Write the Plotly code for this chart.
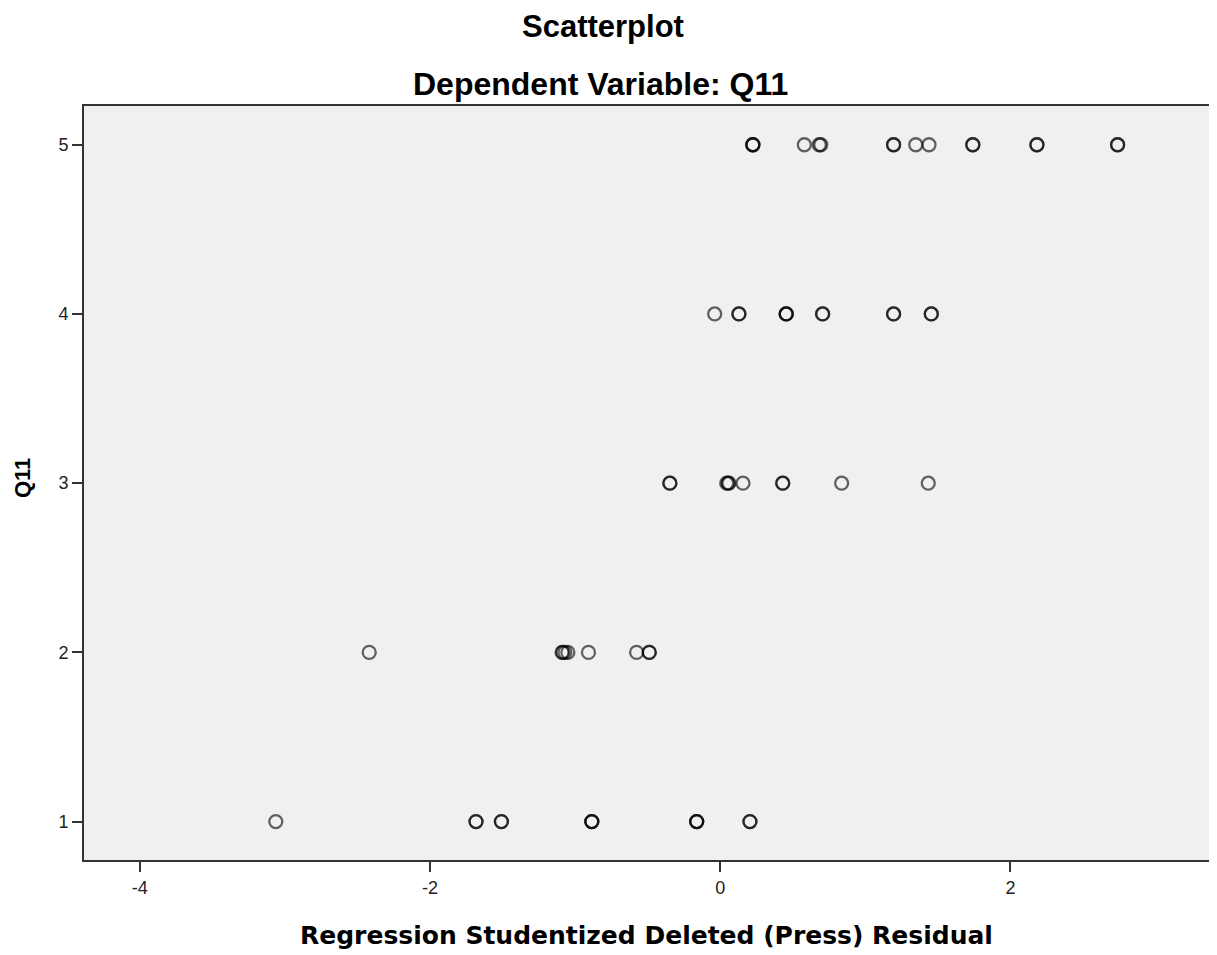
import plotly.graph_objects as go

# Studentized deleted residuals, grouped by the observed value of Q11
# (repeated values = overlapping cases, which draw darker in the original)
resid_q11_1 = [-3.063, -1.683, -1.683, -1.508, -1.508, -0.885, -0.885, -0.885,
               -0.162, -0.162, -0.162, 0.205, 0.205]
resid_q11_2 = [-2.419, -1.090, -1.070, -1.050, -1.085, -0.908, -0.576, -0.489, -0.489]
resid_q11_3 = [-0.347, -0.347, 0.045, 0.054, 0.060, 0.157, 0.431, 0.431, 0.837, 1.434]
resid_q11_4 = [-0.038, 0.129, 0.129, 0.455, 0.455, 0.455, 0.706, 0.706, 1.195, 1.195,
               1.455, 1.455]
resid_q11_5 = [0.225, 0.225, 0.225, 0.580, 0.683, 0.693, 1.195, 1.195, 1.348, 1.439,
               1.741, 1.741, 2.183, 2.183, 2.739, 2.739]

q11_levels = [1, 2, 3, 4, 5]
groups = [resid_q11_1, resid_q11_2, resid_q11_3, resid_q11_4, resid_q11_5]

x_ticks = [-4, -2, 0, 2]
y_ticks = [1, 2, 3, 4, 5]

title_text = "Scatterplot"
subtitle_text = "Dependent Variable: Q11"
x_title = "Regression Studentized Deleted (Press) Residual"
y_title = "Q11"

xs, ys = [], []
for lvl, g in zip(q11_levels, groups):
    xs.extend(g)
    ys.extend([lvl] * len(g))

fig = go.Figure()
fig.add_trace(go.Scatter(
    x=xs, y=ys, mode="markers",
    marker=dict(symbol="circle-open", size=13,
                color="rgba(0,0,0,0.6)",
                line=dict(width=2.3, color="rgba(0,0,0,0.6)")),
    hoverinfo="x+y", showlegend=False,
))

# the page body adds an 8px offset; compensate so the plot lands where the reference has it
OFF = 8
W, H = 1217 - OFF, 955 - OFF
L, R, T, B = 84 - OFF, 6, 106 - OFF, 95
fig.update_layout(
    width=W, height=H,
    margin=dict(l=L, r=R, t=T, b=B, pad=0),
    paper_bgcolor="white",
    plot_bgcolor="#F0F0F0",
    font=dict(family="Liberation Sans, Arial, sans-serif", color="#111"),
    showlegend=False,
)
tickfont = dict(size=18, family="Liberation Sans, Arial, sans-serif", color="#222")
fig.update_xaxes(
    range=[-4.385, 3.369], tickvals=x_ticks, ticktext=[str(v) for v in x_ticks],
    showgrid=False, zeroline=False,
    showline=True, mirror=True, linecolor="#333", linewidth=2,
    ticks="outside", ticklen=10, tickwidth=2, tickcolor="#333",
    tickfont=tickfont,
)
fig.update_yaxes(
    range=[0.773, 5.229], tickvals=y_ticks, ticktext=[str(v) for v in y_ticks],
    showgrid=False, zeroline=False,
    showline=True, mirror=True, linecolor="#333", linewidth=2,
    ticks="outside", ticklen=10, tickwidth=2, tickcolor="#333",
    tickfont=tickfont,
)

plot_h = H - T - B
plot_w = W - L - R

def py(px):
    # px is a page pixel position in the reference
    return (H - B - (px - OFF)) / plot_h

def pxp(px):
    return ((px - OFF) - L) / plot_w

annotations = [
    dict(text=f"<b>{title_text}</b>", x=pxp(604), y=py(27), xref="paper", yref="paper",
         xanchor="center", yanchor="middle", showarrow=False,
         font=dict(size=31, family="Liberation Sans, Arial, sans-serif", color="#000")),
    dict(text=f"<b>{subtitle_text}</b>", x=pxp(601), y=py(84), xref="paper", yref="paper",
         xanchor="center", yanchor="middle", showarrow=False,
         font=dict(size=32, family="Liberation Sans, Arial, sans-serif", color="#000")),
    dict(text=f"<b>{x_title}</b>", x=pxp(647), y=py(935), xref="paper", yref="paper",
         xanchor="center", yanchor="middle", showarrow=False,
         font=dict(size=25, family="DejaVu Sans, Verdana, sans-serif", color="#000")),
    dict(text=f"<b>{y_title}</b>", x=pxp(22), y=py(478), xref="paper", yref="paper",
         xanchor="center", yanchor="middle", showarrow=False, textangle=-90,
         font=dict(size=22, family="Liberation Sans, Arial, sans-serif", color="#000")),
]
fig.update_layout(annotations=annotations)

fig.write_html("out.html")
